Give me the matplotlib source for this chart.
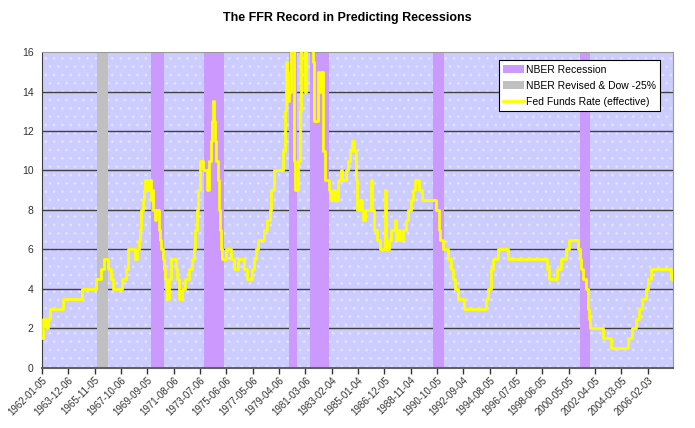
import matplotlib
matplotlib.use("Agg")
import matplotlib.pyplot as plt
import matplotlib.dates as mdates
from matplotlib.patches import Patch, Rectangle
from matplotlib.lines import Line2D
import numpy as np
import pandas as pd

# fed funds rate (effective)
ffr_dates = [
    "1962-01-05", "1962-02-01", "1962-05-01", "1962-06-01", "1962-08-15", "1963-07-15",
    "1964-12-01", "1965-12-01", "1966-05-01", "1966-07-01", "1966-11-01", "1967-01-15",
    "1967-03-15", "1967-11-15", "1968-02-15", "1968-04-01", "1968-10-01", "1968-12-15",
    "1969-01-15", "1969-03-01", "1969-04-01", "1969-05-01", "1969-06-01", "1969-07-15",
    "1969-09-01", "1969-11-01", "1969-12-01", "1970-01-01", "1970-02-15", "1970-03-15",
    "1970-04-15", "1970-07-01", "1970-08-15", "1970-09-15", "1970-10-15", "1970-11-15",
    "1970-12-15", "1971-01-15", "1971-02-15", "1971-04-01", "1971-05-15", "1971-10-15",
    "1971-11-15", "1971-12-15", "1972-03-15", "1972-06-15", "1972-09-15", "1972-12-15",
    "1973-01-15", "1973-03-01", "1973-04-15", "1973-05-15", "1973-07-01", "1973-10-01",
    "1974-01-01", "1974-03-15", "1974-04-15", "1974-05-15", "1974-06-15", "1974-07-15",
    "1974-08-15", "1974-09-15", "1974-10-15", "1974-11-15", "1974-12-15", "1975-01-15",
    "1975-02-15", "1975-05-15", "1975-10-15", "1975-12-15", "1976-04-15", "1976-09-15",
    "1976-12-01", "1977-04-15", "1977-06-15", "1977-08-15", "1977-10-01", "1978-03-01",
    "1978-06-01", "1978-08-15", "1978-09-15", "1978-11-15", "1979-08-01", "1979-09-15",
    "1979-10-10", "1979-10-25", "1979-11-15", "1979-12-10", "1980-01-01", "1980-02-15",
    "1980-05-10", "1980-06-01", "1980-08-15", "1980-10-15", "1980-11-10", "1981-03-01",
    "1981-04-01", "1981-09-15", "1981-11-01", "1982-02-01", "1982-03-15", "1982-05-01",
    "1982-06-15", "1982-07-01", "1982-08-01", "1982-12-01", "1983-01-15", "1983-04-01",
    "1983-05-15", "1983-07-15", "1983-10-15", "1983-11-15", "1984-02-15", "1984-04-15",
    "1984-06-15", "1984-08-01", "1984-09-15", "1984-10-30", "1984-12-15", "1985-02-15",
    "1985-05-01", "1985-05-20", "1985-07-15", "1985-12-20", "1986-01-05", "1986-03-15",
    "1986-06-01", "1986-08-15", "1986-12-20", "1987-01-05", "1987-04-15", "1987-06-01",
    "1987-09-01", "1987-10-15", "1987-12-15", "1988-02-01", "1988-04-01", "1988-07-01",
    "1988-08-20", "1988-11-01", "1989-01-01", "1989-03-01", "1989-06-15", "1989-09-01",
    "1990-09-15", "1990-11-15", "1991-01-01", "1991-03-01", "1991-07-15", "1991-10-15",
    "1991-12-01", "1992-02-01", "1992-04-01", "1992-10-01", "1994-04-15", "1994-07-01",
    "1994-09-15", "1994-11-01", "1995-03-01", "1995-12-01", "1998-10-15", "1998-11-15",
    "1999-06-15", "1999-10-15", "2000-02-15", "2000-05-01", "2001-01-01", "2001-02-15",
    "2001-04-01", "2001-05-15", "2001-08-15", "2001-09-20", "2001-10-15", "2001-11-15",
    "2002-11-01", "2003-06-15", "2004-09-01", "2004-12-15", "2005-03-15", "2005-06-15",
    "2005-09-15", "2005-12-15", "2006-02-15", "2006-05-10", "2007-10-15", "2007-12-07",
]
ffr_values = [
    1.5, 2.5, 2.0, 2.5, 3.0, 3.5,
    4.0, 4.5, 5.0, 5.5, 5.0, 4.5,
    4.0, 4.5, 5.0, 6.0, 5.5, 6.0,
    6.5, 7.0, 8.0, 8.5, 9.0, 9.5,
    9.0, 9.5, 8.5, 9.0, 8.0, 7.5,
    8.0, 7.0, 6.5, 6.0, 5.5, 5.0,
    4.5, 4.0, 3.5, 4.5, 5.5, 5.0,
    4.5, 3.5, 4.0, 4.5, 5.0, 5.5,
    6.0, 7.0, 8.0, 9.0, 10.5, 10.0,
    9.0, 10.5, 11.5, 12.5, 13.5, 12.5,
    11.5, 10.5, 9.5, 8.0, 7.0, 6.0,
    5.5, 6.0, 5.5, 5.0, 5.5, 5.0,
    4.5, 5.0, 5.5, 6.0, 6.5, 7.0,
    7.5, 8.0, 9.0, 10.0, 11.0, 13.0,
    15.5, 14.0, 15.0, 13.5, 14.0, 17.0,
    10.5, 9.0, 10.5, 13.0, 17.0, 14.0,
    17.0, 15.5, 12.5, 15.0, 14.0, 15.0,
    13.0, 11.0, 9.5, 9.0, 8.5, 9.0,
    8.5, 9.5, 10.0, 9.5, 10.0, 10.5,
    11.0, 11.5, 11.0, 9.5, 8.0, 8.5,
    8.0, 7.5, 8.0, 9.5, 8.0, 7.0,
    6.5, 6.0, 9.0, 6.0, 6.5, 7.0,
    7.5, 6.5, 7.0, 6.5, 7.0, 7.5,
    8.0, 8.5, 9.0, 9.5, 9.0, 8.5,
    8.0, 7.0, 6.5, 6.0, 5.5, 5.0,
    4.5, 4.0, 3.5, 3.0, 3.5, 4.0,
    5.0, 5.5, 6.0, 5.5, 5.0, 4.5,
    5.0, 5.5, 6.0, 6.5, 6.0, 5.5,
    5.0, 4.5, 4.0, 3.0, 2.5, 2.0,
    1.5, 1.0, 1.5, 2.0, 2.5, 3.0,
    3.5, 4.0, 4.5, 5.0, 4.5, 4.5,
]

# recession shading
nber_start = ["1969-12-01", "1973-11-01", "1980-01-01", "1981-07-01", "1990-07-01", "2001-03-01"]
nber_end = ["1970-11-30", "1975-03-31", "1980-07-31", "1982-11-30", "1991-03-31", "2001-11-30"]
revised_start = ["1966-01-15"]
revised_end = ["1966-10-15"]

x_start = pd.Timestamp("1962-01-05")
x_end = pd.Timestamp("2007-12-07")
tick_dates = pd.date_range(x_start, "2006-02-03", freq="700D")

plt.rcParams["font.family"] = ["Liberation Sans", "DejaVu Sans"]
fig = plt.figure(figsize=(6.95, 4.28), dpi=100)
ax = fig.add_axes([0.0604, 0.1402, 0.908, 0.7383])

ax.set_facecolor("#CCCCFF")
# excel style dotted fill
ax.add_patch(Rectangle((0, 0), 1, 1, transform=ax.transAxes, facecolor="none",
                       edgecolor="#FFFFFF", hatch="..", linewidth=0, alpha=0.3, zorder=0))

for v in range(2, 16, 2):
    ax.axhline(v, color="#404040", lw=1.0, zorder=1)

for s, e in zip(nber_start, nber_end):
    ax.axvspan(pd.Timestamp(s), pd.Timestamp(e), color="#CC99FF", lw=0, zorder=2)
for s, e in zip(revised_start, revised_end):
    ax.axvspan(pd.Timestamp(s), pd.Timestamp(e), color="#C0C0C0", lw=0, zorder=2)

ax.plot(pd.to_datetime(ffr_dates), ffr_values, color="#FFFF00", lw=2.0,
        drawstyle="steps-post", zorder=3)

ax.set_xlim(x_start, x_end)
ax.set_ylim(0, 16)
ax.set_yticks(range(0, 17, 2))
ax.set_xticks(tick_dates)
ax.xaxis.set_major_formatter(mdates.DateFormatter("%Y-%m-%d"))
ax.tick_params(axis="both", labelsize=7, colors="#333333", length=4, width=1)
ax.tick_params(axis="x", pad=1)
ax.tick_params(axis="y", length=0, pad=6, labelsize=7.5)
for lab in ax.get_xticklabels():
    lab.set_rotation(45)
    lab.set_ha("right")
    lab.set_va("top")
    lab.set_rotation_mode("anchor")

for side in ["top", "right"]:
    ax.spines[side].set_color("#999999")
ax.spines["left"].set_color("#404040")
ax.spines["bottom"].set_color("#606060")
ax.spines["bottom"].set_linewidth(1.5)

fig.text(0.5, 0.958, "The FFR Record in Predicting Recessions", ha="center", va="center",
         fontsize=9, fontweight="bold")

handles = [Patch(facecolor="#CC99FF", edgecolor="none", label="NBER Recession"),
           Patch(facecolor="#C0C0C0", edgecolor="none", label="NBER Revised & Dow -25%"),
           Line2D([], [], color="#FFFF00", lw=2.0, label="Fed Funds Rate (effective)")]
leg = ax.legend(handles=handles, loc="upper left", bbox_to_anchor=(0.716, 0.99),
                fontsize=7.5, frameon=True, fancybox=False, framealpha=1,
                edgecolor="black", handlelength=2.0, handletextpad=0.2,
                borderpad=0.4, labelspacing=0.6)
leg.get_frame().set_linewidth(0.8)
leg.set_zorder(5)

fig.savefig("out.png", dpi=100)
